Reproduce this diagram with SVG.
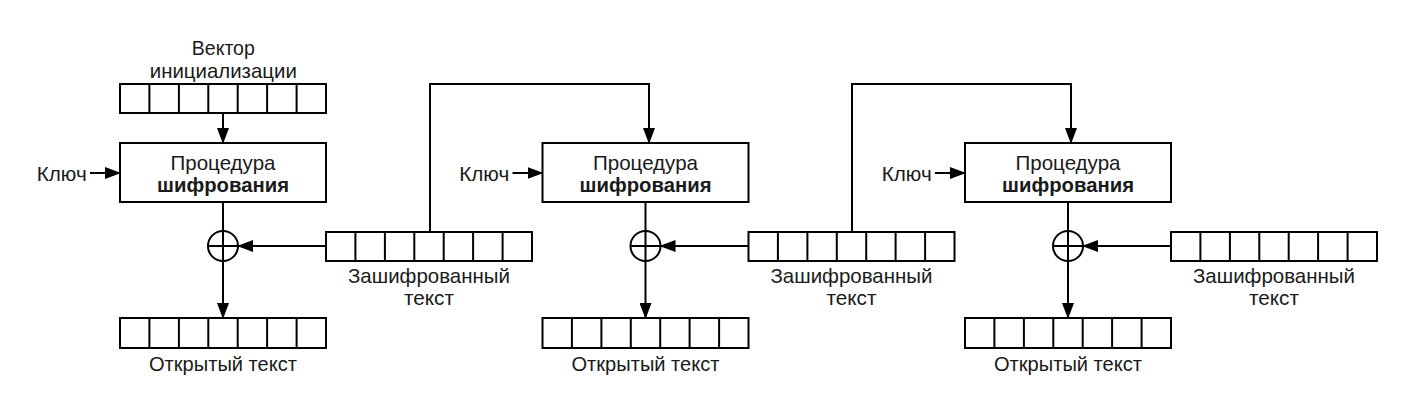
<svg xmlns="http://www.w3.org/2000/svg" xmlns:xlink="http://www.w3.org/1999/xlink" width="1420" height="420" viewBox="0 0 1420 420">
<style>
.box{fill:#fff;stroke:#000;stroke-width:2}
.ln{fill:none;stroke:#000;stroke-width:2}
.arr{fill:none;stroke:#000;stroke-width:2;marker-end:url(#ah)}
.t{font-family:"Liberation Sans",Arial,sans-serif;font-size:21px;fill:#1a1a1a}
.c{text-anchor:middle}
.b{font-weight:bold}
</style>
<defs>
<marker id="ah" markerUnits="userSpaceOnUse" markerWidth="16" markerHeight="12" viewBox="0 0 16 12" refX="15" refY="6" orient="auto">
<path d="M0,0 L16,6 L0,12 z" fill="#000"/>
</marker>
<g id="reg">
<rect class="box" x="0" y="0" width="206" height="29"/>
<path class="ln" d="M29.4,0V29M58.9,0V29M88.3,0V29M117.7,0V29M147.1,0V29M176.6,0V29"/>
</g>
<g id="reg30">
<rect class="box" x="0" y="0" width="206" height="30"/>
<path class="ln" d="M29.4,0V30M58.9,0V30M88.3,0V30M117.7,0V30M147.1,0V30M176.6,0V30"/>
</g>
</defs>
<rect width="1420" height="420" fill="#fff"/>

<g id="connectors">
<line class="arr" x1="90" y1="173" x2="120" y2="173"/>
<line class="arr" x1="512.5" y1="173" x2="542.5" y2="173"/>
<line class="arr" x1="935" y1="173" x2="965" y2="173"/>
<line class="arr" x1="223" y1="113" x2="223" y2="143"/>
<line class="ln" x1="223" y1="202" x2="223" y2="231"/>
<line class="ln" x1="645.5" y1="202" x2="645.5" y2="231"/>
<line class="ln" x1="1068" y1="202" x2="1068" y2="231"/>
<line class="arr" x1="223" y1="261" x2="223" y2="318"/>
<line class="arr" x1="645.5" y1="261" x2="645.5" y2="318"/>
<line class="arr" x1="1068" y1="261" x2="1068" y2="318"/>
<line class="arr" x1="326" y1="246" x2="238" y2="246"/>
<line class="arr" x1="748.5" y1="246" x2="660.5" y2="246"/>
<line class="arr" x1="1171" y1="246" x2="1083" y2="246"/>
<polyline class="arr" points="430,232 430,84 649,84 649,143"/>
<polyline class="arr" points="852,232 852,84 1071,84 1071,143"/>
</g>

<g id="iv">
<text class="t c" x="223.3" y="55" textLength="63" lengthAdjust="spacingAndGlyphs">Вектор</text>
<text class="t c" x="223.3" y="78" textLength="147" lengthAdjust="spacingAndGlyphs">инициализации</text>
<use xlink:href="#reg" x="120" y="84"/>
</g>

<g id="block1">
<text class="t" x="36.7" y="181" textLength="50" lengthAdjust="spacingAndGlyphs">Ключ</text>
<rect class="box" x="120" y="143" width="206" height="59"/>
<text class="t c" x="223" y="170" textLength="105" lengthAdjust="spacingAndGlyphs">Процедура</text>
<text class="t c b" x="223" y="192" textLength="132" lengthAdjust="spacingAndGlyphs">шифрования</text>
</g>
<g id="xor1">
<circle class="box" cx="223" cy="246" r="15"/>
<path class="ln" d="M208,246H238M223,231V261"/>
</g>
<g id="plain1">
<use xlink:href="#reg30" x="120" y="318"/>
<text class="t c" x="223" y="371" textLength="148" lengthAdjust="spacingAndGlyphs">Открытый текст</text>
</g>
<g id="cipher1">
<use xlink:href="#reg" x="326" y="232"/>
<text class="t c" x="429" y="283" textLength="162" lengthAdjust="spacingAndGlyphs">Зашифрованный</text>
<text class="t c" x="429" y="305" textLength="50" lengthAdjust="spacingAndGlyphs">текст</text>
</g>

<g id="block2">
<text class="t" x="459.2" y="181" textLength="50" lengthAdjust="spacingAndGlyphs">Ключ</text>
<rect class="box" x="542.5" y="143" width="206" height="59"/>
<text class="t c" x="645.5" y="170" textLength="105" lengthAdjust="spacingAndGlyphs">Процедура</text>
<text class="t c b" x="645.5" y="192" textLength="132" lengthAdjust="spacingAndGlyphs">шифрования</text>
</g>
<g id="xor2">
<circle class="box" cx="645.5" cy="246" r="15"/>
<path class="ln" d="M630.5,246H660.5M645.5,231V261"/>
</g>
<g id="plain2">
<use xlink:href="#reg30" x="542.5" y="318"/>
<text class="t c" x="645.5" y="371" textLength="148" lengthAdjust="spacingAndGlyphs">Открытый текст</text>
</g>
<g id="cipher2">
<use xlink:href="#reg" x="748.5" y="232"/>
<text class="t c" x="851.5" y="283" textLength="162" lengthAdjust="spacingAndGlyphs">Зашифрованный</text>
<text class="t c" x="851.5" y="305" textLength="50" lengthAdjust="spacingAndGlyphs">текст</text>
</g>

<g id="block3">
<text class="t" x="881.7" y="181" textLength="50" lengthAdjust="spacingAndGlyphs">Ключ</text>
<rect class="box" x="965" y="143" width="206" height="59"/>
<text class="t c" x="1068" y="170" textLength="105" lengthAdjust="spacingAndGlyphs">Процедура</text>
<text class="t c b" x="1068" y="192" textLength="132" lengthAdjust="spacingAndGlyphs">шифрования</text>
</g>
<g id="xor3">
<circle class="box" cx="1068" cy="246" r="15"/>
<path class="ln" d="M1053,246H1083M1068,231V261"/>
</g>
<g id="plain3">
<use xlink:href="#reg30" x="965" y="318"/>
<text class="t c" x="1068" y="371" textLength="148" lengthAdjust="spacingAndGlyphs">Открытый текст</text>
</g>
<g id="cipher3">
<use xlink:href="#reg" x="1171" y="232"/>
<text class="t c" x="1274" y="283" textLength="162" lengthAdjust="spacingAndGlyphs">Зашифрованный</text>
<text class="t c" x="1274" y="305" textLength="50" lengthAdjust="spacingAndGlyphs">текст</text>
</g>
</svg>
